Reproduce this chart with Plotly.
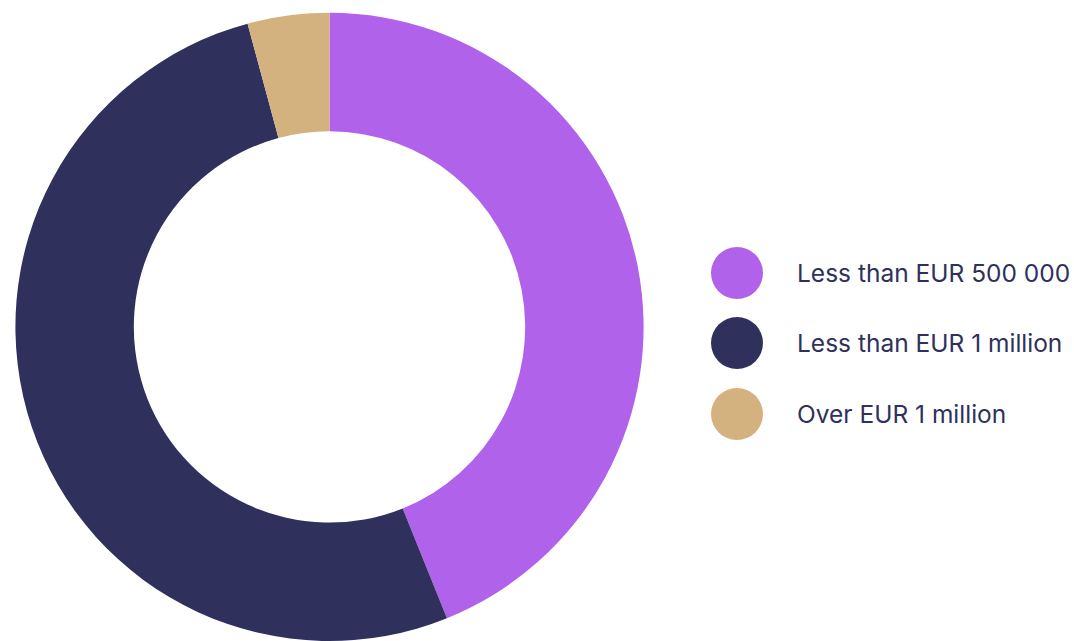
import plotly.graph_objects as go

# Share of companies by amount
labels = ["Less than EUR 500 000", "Less than EUR 1 million", "Over EUR 1 million"]
values = [43.9, 51.9, 4.2]
colors = ["#b063ea", "#2f315c", "#d4b280"]

W, H = 1074, 641
text_color = "#2f315c"

fig = go.Figure()

fig.add_trace(go.Pie(
    labels=labels,
    values=values,
    marker=dict(colors=colors, line=dict(width=0)),
    hole=0.623,
    sort=False,
    direction="clockwise",
    rotation=0,
    textinfo="none",
    hoverinfo="label+percent",
    showlegend=False,
    domain=dict(x=[0, 659 / W], y=[0, 0.98]),
))

# Custom legend: large round swatches with labels, laid out in pixel units
legend_x = 737
legend_y = [273, 343, 414]
fig.add_trace(go.Scatter(
    x=[legend_x] * len(labels),
    y=legend_y,
    mode="markers",
    marker=dict(size=52, color=colors, line=dict(width=0)),
    hoverinfo="skip",
    showlegend=False,
))
for lab, yy in zip(labels, legend_y):
    fig.add_annotation(
        x=794.5, y=yy, xref="x", yref="y",
        text=lab, showarrow=False,
        xanchor="left", yanchor="middle",
        font=dict(family="Inter, Noto Sans, sans-serif", size=24.5, color=text_color),
    )

fig.update_xaxes(range=[0, W], visible=False, fixedrange=True)
fig.update_yaxes(range=[H, 0], visible=False, fixedrange=True)

fig.update_layout(
    width=W, height=H,
    margin=dict(l=0, r=0, t=0, b=0),
    paper_bgcolor="white",
    plot_bgcolor="rgba(0,0,0,0)",
    showlegend=False,
)

fig.write_html("out.html")
